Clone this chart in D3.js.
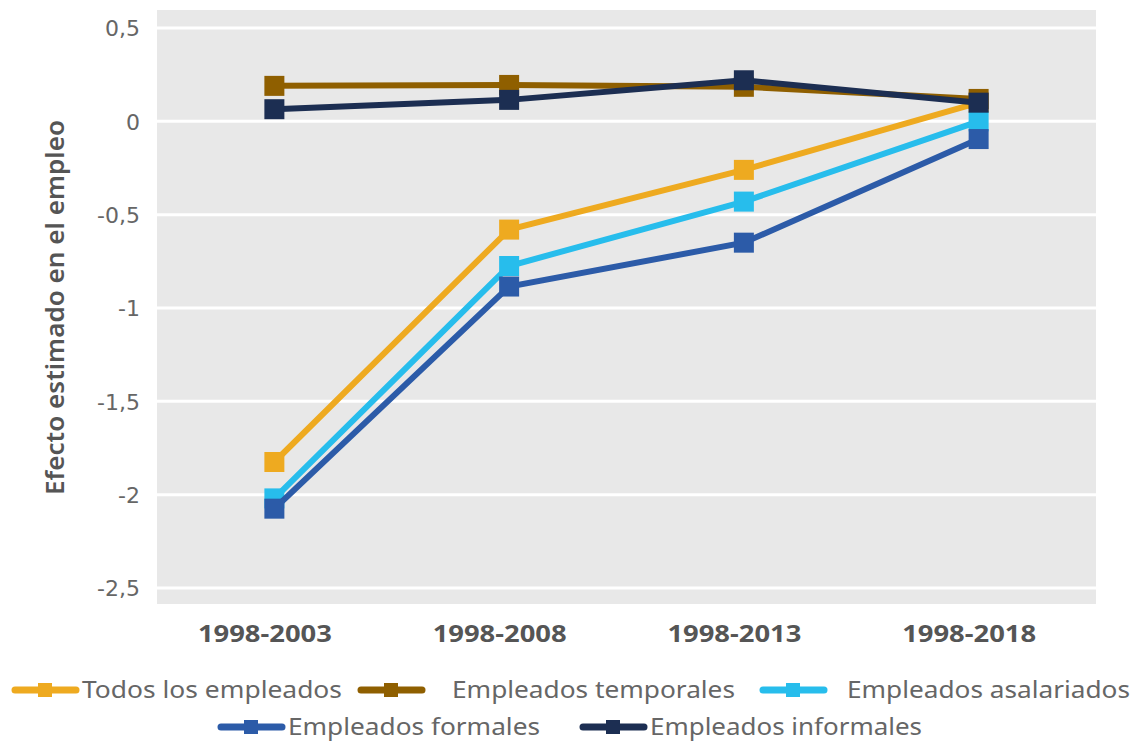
<!DOCTYPE html>
<html>
<head>
<meta charset="utf-8">
<script src="https://cdnjs.cloudflare.com/ajax/libs/d3/7.8.5/d3.min.js"></script>
<style>
  body { margin: 0; background: #ffffff; }
  svg { display: block; }
</style>
</head>
<body>
<svg id="chart"></svg>
<script>
// periods on the x axis
const periods = ['1998-2003', '1998-2008', '1998-2013', '1998-2018'];

// estimated effect per series
const todos       = [-1.825, -0.58, -0.26, 0.10];
const temporales  = [0.19, 0.195, 0.185, 0.12];
const asalariados = [-2.02, -0.775, -0.43, 0.0];
const formales    = [-2.075, -0.885, -0.65, -0.095];
const informales  = [0.065, 0.115, 0.22, 0.10];

const seriesNames = ['Todos los empleados', 'Empleados temporales', 'Empleados asalariados',
  'Empleados formales', 'Empleados informales'];
const yTicks = [0.5, 0, -0.5, -1, -1.5, -2, -2.5];

const COLORS = ['#eeaa20', '#8f5f00', '#27bdec', '#2c5ba8', '#1c2e52'];

const W = 1134, H = 742;
const PLOT = {left: 157, right: 1096, top: 10, bottom: 604};

const series = [todos, temporales, asalariados, formales, informales].map((vals, i) => ({
  name: seriesNames[i],
  color: COLORS[i],
  values: vals.map((v, j) => ({period: periods[j], value: v}))
}));

const svg = d3.select('#chart').attr('width', W).attr('height', H);

const x = d3.scalePoint().domain(periods).range([PLOT.left, PLOT.right]).padding(0.5);
const y = d3.scaleLinear().domain([-2.5, 0.5]).range([588, 28]);

// plot background
svg.append('rect')
  .attr('x', PLOT.left).attr('y', PLOT.top)
  .attr('width', PLOT.right - PLOT.left).attr('height', PLOT.bottom - PLOT.top)
  .attr('fill', '#e8e8e8');

// grid lines
svg.append('g')
  .selectAll('line')
  .data(yTicks)
  .enter()
  .append('line')
  .attr('x1', PLOT.left).attr('x2', PLOT.right)
  .attr('y1', d => y(d)).attr('y2', d => y(d))
  .attr('stroke', '#ffffff').attr('stroke-width', 3);

// y axis
const yAxis = svg.append('g')
  .attr('transform', `translate(${PLOT.left - 17}, 0)`)
  .call(d3.axisLeft(y).tickValues(yTicks).tickSize(0).tickPadding(0)
    .tickFormat(d => String(d).replace('.', ',')));
yAxis.select('.domain').remove();
yAxis.selectAll('text')
  .attr('font-family', 'DejaVu Sans').attr('font-size', 22).attr('fill', '#666666')
  .attr('dy', '0.35em');

// x axis (labels sit a little left of the points, as in the original)
const xAxis = svg.append('g')
  .attr('transform', `translate(-10, ${PLOT.bottom})`)
  .call(d3.axisBottom(x).tickSize(0).tickPadding(0));
xAxis.select('.domain').remove();
xAxis.selectAll('text')
  .attr('font-family', 'Noto Sans').attr('font-weight', 'bold').attr('font-size', 24)
  .attr('textLength', 134).attr('lengthAdjust', 'spacingAndGlyphs')
  .attr('fill', '#555555').attr('dy', 0).attr('y', 38);

// y axis title
svg.append('text')
  .attr('transform', `translate(64, ${(120 + 495) / 2}) rotate(-90)`)
  .attr('text-anchor', 'middle')
  .attr('font-family', 'Noto Sans').attr('font-weight', 600).attr('font-size', 25)
  .attr('textLength', 375).attr('lengthAdjust', 'spacingAndGlyphs')
  .attr('fill', '#555555')
  .text('Efecto estimado en el empleo');

// lines and markers
const line = d3.line().x(d => x(d.period)).y(d => y(d.value));
const groups = svg.append('g').selectAll('.series')
  .data(series)
  .enter()
  .append('g')
  .classed('series', true);

groups.append('path')
  .attr('d', d => line(d.values))
  .attr('fill', 'none')
  .attr('stroke', d => d.color)
  .attr('stroke-width', 6);

groups.selectAll('rect')
  .data(d => d.values.map(v => ({...v, color: d.color})))
  .enter()
  .append('rect')
  .attr('x', d => x(d.period) - 10)
  .attr('y', d => y(d.value) - 10)
  .attr('width', 20).attr('height', 20)
  .attr('fill', d => d.color);

// legend
const legendPos = [
  {x: 12, y: 690}, {x: 358, y: 690}, {x: 760, y: 690},
  {x: 218, y: 727}, {x: 580, y: 727}
];
const textGap = [70, 94, 87, 70, 70];
const textWidth = [260, 283, 283, 252, 272];

const legend = svg.append('g').selectAll('.legend')
  .data(series)
  .enter()
  .append('g')
  .classed('legend', true)
  .attr('transform', (d, i) => `translate(${legendPos[i].x}, ${legendPos[i].y})`);

legend.append('line')
  .attr('x1', 3).attr('x2', 64).attr('y1', 0).attr('y2', 0)
  .attr('stroke', d => d.color).attr('stroke-width', 7).attr('stroke-linecap', 'round');
legend.append('rect')
  .attr('x', 26).attr('y', -7).attr('width', 14).attr('height', 14)
  .attr('fill', d => d.color);
legend.append('text')
  .attr('x', (d, i) => textGap[i])
  .attr('y', 0).attr('dy', '0.35em')
  .attr('font-family', 'Noto Sans').attr('font-size', 24)
  .attr('textLength', (d, i) => textWidth[i]).attr('lengthAdjust', 'spacingAndGlyphs')
  .attr('fill', '#666666')
  .text(d => d.name);
</script>
</body>
</html>
